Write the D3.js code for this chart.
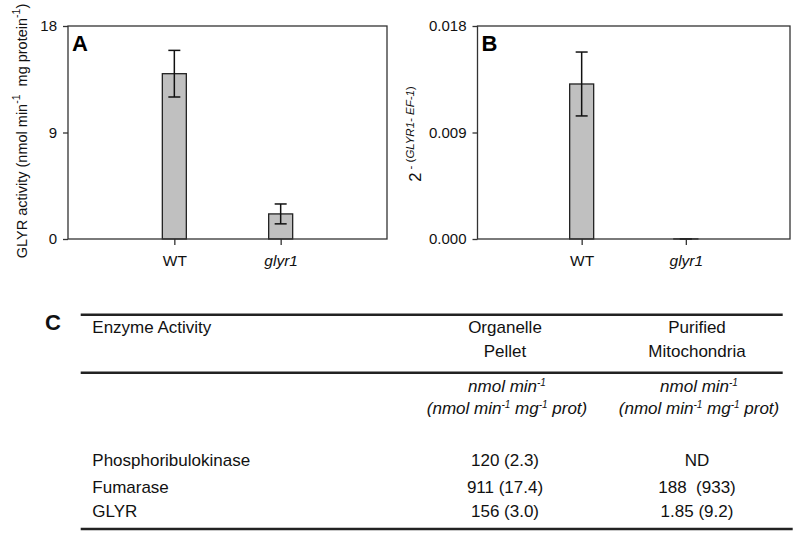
<!DOCTYPE html>
<html>
<head>
<meta charset="utf-8">
<script src="https://cdn.jsdelivr.net/npm/d3@7"></script>
<style>
  body { margin: 0; background: #fff; }
  svg { font-family: "Liberation Sans", Arial, sans-serif; }
</style>
</head>
<body>
<div id="my_graphic"></div>
<script>
// panel A / B data
var categories = ["WT", "glyr1"];
var activityMean = [13.97, 2.12];
var activityErr = [1.97, 0.84];
var activityTicks = [0, 9, 18];
var exprMean = [0.0131, 0.00001];
var exprErr = [0.0027, 0.00001];
var exprTicks = [0, 0.009, 0.018];

// panel C table
var tableHeader = [["Organelle", "Pellet"], ["Purified", "Mitochondria"]];
var enzymes = ["Phosphoribulokinase", "Fumarase", "GLYR"];
var organelleValues = ["120 (2.3)", "911 (17.4)", "156 (3.0)"];
var mitoValues = ["ND", "188\u00a0 (933)", "1.85 (9.2)"];

const svg = d3.select("#my_graphic")
    .append("svg")
    .attr("width", 800)
    .attr("height", 535);

const top_y = 26, bottom_y = 239;

function draw_panel(opts) {
    const g = svg.append("g");
    const x = d3.scalePoint()
        .domain(categories)
        .range([opts.left, opts.right])
        .padding(1);
    const y = d3.scaleLinear()
        .domain([0, opts.ticks[opts.ticks.length - 1]])
        .range([bottom_y, top_y]);

    // y axis
    g.append("g")
        .attr("transform", `translate(${opts.left},0)`)
        .call(d3.axisLeft(y).tickValues(opts.ticks).tickSize(5).tickPadding(6).tickFormat(opts.fmt))
        .call(a => a.select(".domain").remove())
        .call(a => a.selectAll(".tick line").attr("stroke", "#333").attr("stroke-width", 1.3))
        .call(a => a.selectAll(".tick text").attr("font-size", 15).attr("fill", "#111")
            .attr("font-family", "Liberation Sans, Arial, sans-serif"));

    // x axis
    g.append("g")
        .attr("transform", `translate(0,${bottom_y})`)
        .call(d3.axisBottom(x).tickSize(6).tickPadding(10))
        .call(a => a.select(".domain").remove())
        .call(a => a.selectAll(".tick line").attr("stroke", "#333").attr("stroke-width", 1.3))
        .call(a => a.selectAll(".tick text").attr("font-size", 15.5).attr("fill", "#111")
            .attr("font-family", "Liberation Sans, Arial, sans-serif")
            .attr("font-style", d => d == "WT" ? "normal" : "italic"));

    // bars
    const bw = 24;
    g.selectAll(".bar")
        .data(categories)
        .join("rect")
        .attr("class", "bar")
        .attr("x", d => x(d) - bw / 2)
        .attr("y", (d, i) => y(opts.mean[i]))
        .attr("width", bw)
        .attr("height", (d, i) => y(0) - y(opts.mean[i]))
        .attr("fill", "#c0c0c0")
        .attr("stroke", "#222")
        .attr("stroke-width", 1.3);

    // error bars
    const cap = 6;
    const err = g.selectAll(".err")
        .data(categories)
        .join("g")
        .attr("class", "err")
        .attr("stroke", "#111")
        .attr("stroke-width", 1.5);
    err.append("line")
        .attr("x1", d => x(d)).attr("x2", d => x(d))
        .attr("y1", (d, i) => y(opts.mean[i] + opts.err[i]))
        .attr("y2", (d, i) => y(Math.max(0, opts.mean[i] - opts.err[i])));
    err.append("line")
        .attr("x1", d => x(d) - cap).attr("x2", d => x(d) + cap)
        .attr("y1", (d, i) => y(opts.mean[i] + opts.err[i]))
        .attr("y2", (d, i) => y(opts.mean[i] + opts.err[i]));
    err.append("line")
        .attr("x1", d => x(d) - cap).attr("x2", d => x(d) + cap)
        .attr("y1", (d, i) => y(Math.max(0, opts.mean[i] - opts.err[i])))
        .attr("y2", (d, i) => y(Math.max(0, opts.mean[i] - opts.err[i])));

    // frame
    g.append("rect")
        .attr("x", opts.left).attr("y", top_y)
        .attr("width", opts.right - opts.left)
        .attr("height", bottom_y - top_y)
        .attr("fill", "none")
        .attr("stroke", "#333")
        .attr("stroke-width", 1.3);

    // panel letter
    g.append("text")
        .attr("x", opts.left + 4)
        .attr("y", 51)
        .attr("font-size", 22)
        .attr("font-weight", "bold")
        .text(opts.letter);
    return g;
}

const gA = draw_panel({left: 68, right: 387, ticks: activityTicks, mean: activityMean,
    err: activityErr, fmt: d3.format("d"), letter: "A"});
const gB = draw_panel({left: 477.5, right: 790, ticks: exprTicks, mean: exprMean,
    err: exprErr, fmt: d3.format(".3f"), letter: "B"});

// y label A
const labA = gA.append("text")
    .attr("transform", "translate(27,131) rotate(-90)")
    .attr("text-anchor", "middle")
    .attr("font-size", 14.5)
    .attr("fill", "#111");
labA.append("tspan").text("GLYR activity (nmol min");
labA.append("tspan").attr("dy", -7).attr("font-size", 10.5).text("-1");
labA.append("tspan").attr("dy", 7).text("\u00a0 mg protein");
labA.append("tspan").attr("dy", -7).attr("font-size", 10.5).text("-1");
labA.append("tspan").attr("dy", 7).text(")");

// y label B
const labB = gB.append("text")
    .attr("transform", "translate(421,134) rotate(-90)")
    .attr("text-anchor", "middle")
    .attr("font-size", 16.5)
    .attr("fill", "#111");
labB.append("tspan").text("2");
labB.append("tspan").attr("dy", -7.5).attr("font-size", 11.5).text(" - (");
labB.append("tspan").attr("font-size", 11.5).attr("font-style", "italic").text("GLYR1- EF-1");
labB.append("tspan").attr("font-size", 11.5).text(")");

// panel C table
const tbl = svg.append("g").attr("font-size", 17).attr("fill", "#111");
const colX = [92.3, 505, 697];

tbl.append("text")
    .attr("x", 45).attr("y", 330)
    .attr("font-size", 22).attr("font-weight", "bold")
    .text("C");

const rules = [[314.7, 782.7], [372.7, 782.7], [529, 792.7]];
tbl.selectAll(".rule")
    .data(rules)
    .join("line")
    .attr("class", "rule")
    .attr("x1", 80.7).attr("x2", d => d[1])
    .attr("y1", d => d[0]).attr("y2", d => d[0])
    .attr("stroke", "#222")
    .attr("stroke-width", 2.5);

tbl.append("text").attr("x", colX[0]).attr("y", 333.3).text("Enzyme Activity");

tableHeader.forEach(function(h, i) {
    h.forEach(function(line, j) {
        tbl.append("text")
            .attr("x", colX[i + 1]).attr("y", 333.3 + j * 23.4)
            .attr("text-anchor", "middle")
            .text(line);
    });
    // units
    const u1 = tbl.append("text")
        .attr("x", colX[i + 1] + 2).attr("y", 391.7)
        .attr("text-anchor", "middle").attr("font-style", "italic");
    u1.append("tspan").text("nmol min");
    u1.append("tspan").attr("dy", -6).attr("font-size", 10).text("-1");
    const u2 = tbl.append("text")
        .attr("x", colX[i + 1] + 2).attr("y", 414)
        .attr("text-anchor", "middle").attr("font-style", "italic");
    u2.append("tspan").text("(nmol min");
    u2.append("tspan").attr("dy", -6).attr("font-size", 10).text("-1");
    u2.append("tspan").attr("dy", 6).text(" mg");
    u2.append("tspan").attr("dy", -6).attr("font-size", 10).text("-1");
    u2.append("tspan").attr("dy", 6).text(" prot)");
});

const rowY = [465.7, 493.3, 517.3];
enzymes.forEach(function(e, i) {
    tbl.append("text").attr("x", colX[0]).attr("y", rowY[i]).text(e);
    tbl.append("text").attr("x", colX[1]).attr("y", rowY[i])
        .attr("text-anchor", "middle").text(organelleValues[i]);
    tbl.append("text").attr("x", colX[2]).attr("y", rowY[i])
        .attr("text-anchor", "middle").text(mitoValues[i]);
});
</script>
</body>
</html>
